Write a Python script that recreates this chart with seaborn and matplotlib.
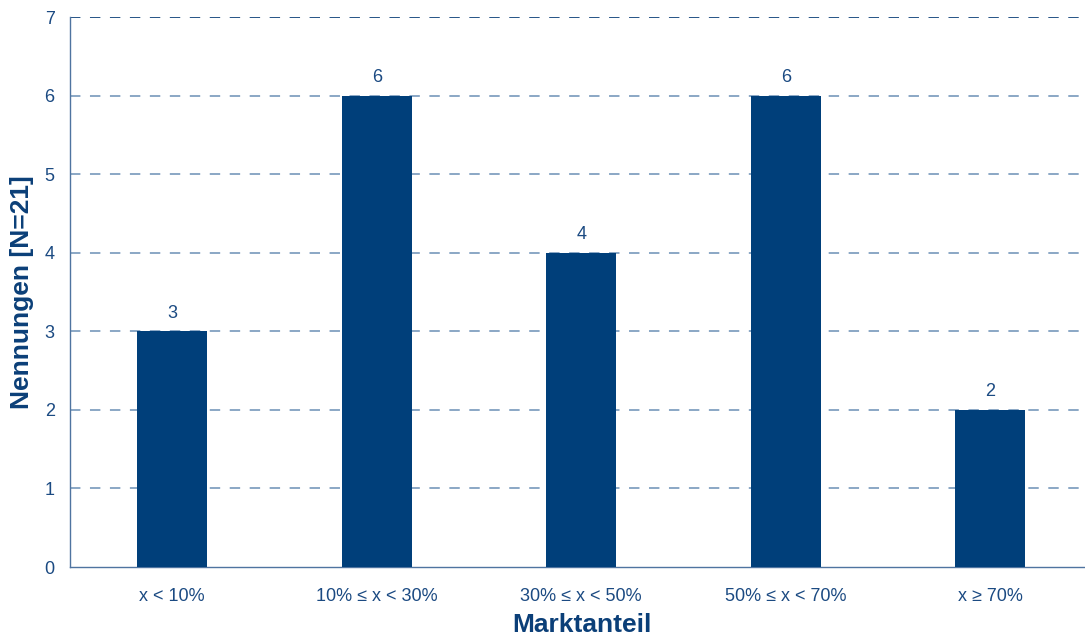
import matplotlib
matplotlib.use("Agg")
import matplotlib.pyplot as plt
import seaborn as sns
import pandas as pd

# Survey results: number of mentions per market-share bracket
categories = ["x < 10%", "10% ≤ x < 30%", "30% ≤ x < 50%", "50% ≤ x < 70%", "x ≥ 70%"]
mentions = [3, 6, 4, 6, 2]
y_ticks = [0, 1, 2, 3, 4, 5, 6, 7]

bar_color = "#003F7A"
text_color = "#1B4A82"
label_color = "#0B3F78"
spine_color = "#4F74A0"
grid_color = "#7C9CBE"

sns.set_theme(style="white")
plt.rcParams["font.family"] = ["Liberation Sans", "DejaVu Sans"]

df = pd.DataFrame({"Marktanteil": categories, "Nennungen": mentions})

fig = plt.figure(figsize=(10.85, 6.35), dpi=100)
ax_w, ax_h = 1022.5, 550
ax = fig.add_axes([70 / 1085, 68 / 635, ax_w / 1085, ax_h / 635])

sns.barplot(data=df, x="Marktanteil", y="Nennungen", color=bar_color,
            saturation=1, width=0.34, linewidth=0, ax=ax, zorder=3)

ax.set_xlim(-0.5, 4.5)
ax.set_ylim(0, 7)
ax.set_yticks(y_ticks)

# dashed horizontal grid lines; the top one is darker
for v in y_ticks[1:]:
    ax.axhline(v, color=label_color if v == y_ticks[-1] else grid_color,
               linestyle=(0, (6, 5.5)), linewidth=1.25, zorder=1)

# value labels above bars
for i, v in enumerate(mentions):
    ax.text(i, v + 0.12, str(v), ha="center", va="bottom",
            fontsize=13, color=text_color, zorder=4)

for side in ("top", "right"):
    ax.spines[side].set_visible(False)
for side in ("left", "bottom"):
    ax.spines[side].set_color(spine_color)
    ax.spines[side].set_linewidth(1.0)

# x ticks at category boundaries, labels centred under bars
ax.set_xticks(range(len(categories)))
ax.set_xticklabels(categories)
ax.set_xticks([i - 0.5 for i in range(len(categories) + 1)], minor=True)
ax.tick_params(axis="x", which="major", length=0, pad=15, labelsize=13, labelcolor=text_color)
ax.tick_params(axis="x", which="minor", length=5, width=1, color=spine_color, direction="out")
ax.tick_params(axis="y", length=5, width=1, color=spine_color, direction="out",
               labelsize=13, labelcolor=text_color, pad=6)

ax.set_xlabel("Marktanteil", fontsize=19, fontweight="bold", color=label_color, va="center")
ax.xaxis.set_label_coords(0.5 - 0 / ax_w, -58 / ax_h)
ax.set_ylabel("Nennungen [N=21]", fontsize=19, fontweight="bold", color=label_color, va="center")
ax.yaxis.set_label_coords(-48 / ax_w, 0.5)

# centre the x label under the plotted categories (axes runs past the right edge)
ax.xaxis.set_label_coords((582 - 70) / ax_w, -58 / ax_h)

fig.savefig("out.png", dpi=100)
